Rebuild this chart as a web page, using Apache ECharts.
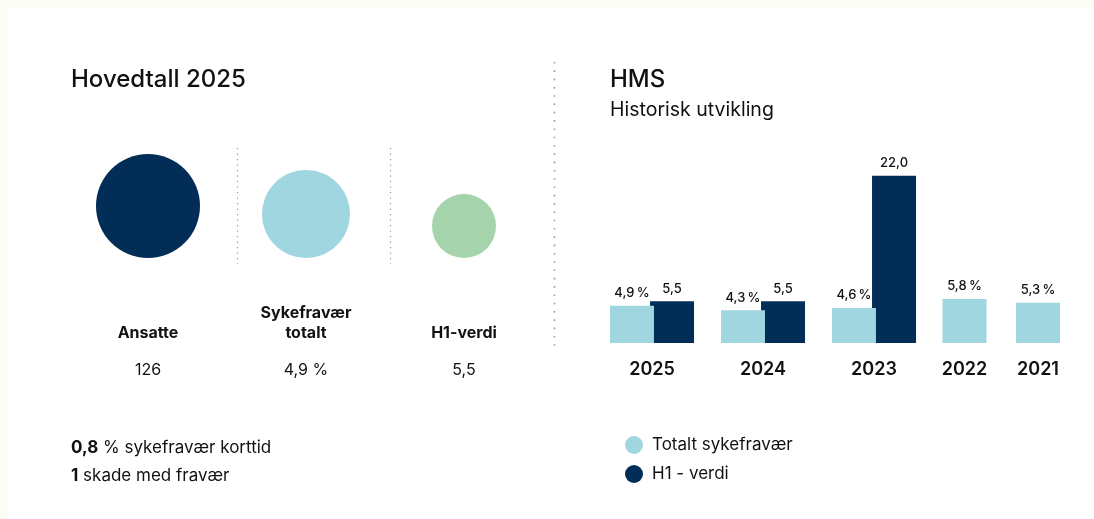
<!DOCTYPE html>
<html>
<head>
<meta charset="utf-8">
<script src="https://cdn.jsdelivr.net/npm/echarts@6/dist/echarts.min.js"></script>
<style>
  html, body { margin: 0; padding: 0; background: #fcfdf4; }
  #chart { width: 1094px; height: 519px; }
</style>
</head>
<body>
<div id="chart"></div>
<script>
// Hovedtall 2025
const hovedNames = ["Ansatte", "Sykefravær\ntotalt", "H1-verdi"];
const hovedValues = [126, 4.9, 5.5];
const hovedUnits = ["", " %", ""];
const korttidFravaer = 0.8;
const skaderMedFravaer = 1;

// HMS - historisk utvikling
const years = ["2025", "2024", "2023", "2022", "2021"];
const sykefravaer = [4.9, 4.3, 4.6, 5.8, 5.3];
const h1Verdi = [5.5, 5.5, 22.0, null, null];

const navy = "#022d56";
const lightBlue = "#9fd6df";
const green = "#a5d3ab";
const circleColors = [navy, lightBlue, green];
const circleSizes = [104, 88, 64];
const font = "Inter";

function komma(v, digits) {
  return v.toFixed(digits).replace(".", ",");
}

// years with an H1 value get a pair of bars, the rest a single bar
const pairCount = h1Verdi.filter(v => v != null).length;

let chartDom = document.getElementById("chart");
let myChart = echarts.init(chartDom);

var barLabel = {
  show: true,
  position: "top",
  distance: 6,
  fontFamily: font,
  fontSize: 13,
  fontWeight: 500,
  color: "#111",
};

var option = {
  backgroundColor: "#fcfdf4",
  textStyle: { fontFamily: font },
  animation: false,
  title: [
    {
      text: "Hovedtall 2025",
      left: 71,
      top: 68,
      padding: 0,
      textStyle: { fontFamily: font, fontSize: 24, fontWeight: 500, color: "#111" },
    },
    {
      text: "HMS",
      subtext: "Historisk utvikling",
      left: 610,
      top: 68,
      padding: 0,
      itemGap: 8,
      textStyle: { fontFamily: font, fontSize: 24, fontWeight: 500, color: "#111" },
      subtextStyle: { fontFamily: font, fontSize: 19.5, color: "#111" },
    },
    {
      text:
        "{b|" + komma(korttidFravaer, 1) + "} % sykefravær korttid\n" +
        "{b|" + skaderMedFravaer + "} skade med fravær",
      left: 71,
      top: 434,
      padding: 0,
      textStyle: {
        fontFamily: font,
        fontSize: 17,
        fontWeight: 400,
        color: "#111",
        lineHeight: 28,
        rich: {
          b: { fontFamily: font, fontSize: 17, fontWeight: 700, color: "#111", lineHeight: 28 },
        },
      },
    },
  ],
  legend: {
    orient: "vertical",
    left: 625,
    top: 436,
    padding: 0,
    itemWidth: 18,
    itemHeight: 18,
    itemGap: 11,
    icon: "circle",
    data: ["Totalt sykefravær", "H1 - verdi"],
    textStyle: { fontFamily: font, fontSize: 17, color: "#111", padding: [0, 0, 0, 4] },
  },
  graphic: [
    {
      type: "rect",
      z: -10,
      silent: true,
      shape: { x: 8, y: 9, width: 1086, height: 510 },
      style: { fill: "#fff" },
    },
    {
      type: "line",
      silent: true,
      shape: { x1: 554.5, y1: 62, x2: 554.5, y2: 351 },
      style: { stroke: "#9a9aa2", lineWidth: 1.6, lineDash: [1.6, 6.7] },
    },
    {
      type: "line",
      silent: true,
      shape: { x1: 237.5, y1: 148, x2: 237.5, y2: 264 },
      style: { stroke: "#9a9aa2", lineWidth: 1.2, lineDash: [1.2, 4.3] },
    },
    {
      type: "line",
      silent: true,
      shape: { x1: 390.5, y1: 148, x2: 390.5, y2: 264 },
      style: { stroke: "#9a9aa2", lineWidth: 1.2, lineDash: [1.2, 4.3] },
    },
  ],
  grid: [
    { left: 69, width: 474, top: 100, height: 158 },
    { left: 596.5, width: 333, top: 153, height: 190 },
    { left: 927.75, width: 147, top: 153, height: 190 },
  ],
  xAxis: [
    {
      gridIndex: 0,
      type: "category",
      data: hovedNames,
      axisLine: { show: false },
      axisTick: { show: false },
      axisLabel: {
        margin: 45,
        interval: 0,
        formatter: function (name, i) {
          let lines = name.split("\n");
          if (lines.length < 2) lines.unshift(" ");
          let out = lines.map(l => "{n|" + l + "}").join("\n");
          return out + "\n{v|" + komma(hovedValues[i], i === 0 ? 0 : 1) + hovedUnits[i] + "}";
        },
        rich: {
          n: { fontFamily: font, fontSize: 16, fontWeight: 700, color: "#111", lineHeight: 20 },
          v: { fontFamily: font, fontSize: 16, fontWeight: 400, color: "#111", lineHeight: 54 },
        },
      },
    },
    {
      gridIndex: 1,
      type: "category",
      data: years.slice(0, pairCount),
      axisLine: { show: false },
      axisTick: { show: false },
      axisLabel: { margin: 18, fontFamily: font, fontSize: 18, fontWeight: 600, color: "#111" },
    },
    {
      gridIndex: 2,
      type: "category",
      data: years.slice(pairCount),
      axisLine: { show: false },
      axisTick: { show: false },
      axisLabel: { margin: 18, fontFamily: font, fontSize: 18, fontWeight: 600, color: "#111" },
    },
  ],
  yAxis: [
    { gridIndex: 0, type: "value", min: 0, max: 1, show: false },
    { gridIndex: 1, type: "value", min: 0, max: 25, show: false },
    { gridIndex: 2, type: "value", min: 0, max: 25, show: false },
  ],
  series: [
    {
      type: "scatter",
      xAxisIndex: 0,
      yAxisIndex: 0,
      silent: true,
      data: hovedValues.map((v, i) => ({
        value: [i, 0],
        symbolSize: circleSizes[i],
        symbolOffset: [0, -circleSizes[i] / 2],
        itemStyle: { color: circleColors[i], opacity: 1 },
      })),
    },
    {
      name: "Totalt sykefravær",
      type: "bar",
      xAxisIndex: 1,
      yAxisIndex: 1,
      z: 3,
      barWidth: 44,
      barGap: "-9%",
      color: lightBlue,
      data: sykefravaer.slice(0, pairCount),
      label: Object.assign({}, barLabel, { formatter: p => komma(p.value, 1) + "\u2009%" }),
    },
    {
      name: "H1 - verdi",
      type: "bar",
      xAxisIndex: 1,
      yAxisIndex: 1,
      barWidth: 44,
      barGap: "-9%",
      color: navy,
      data: h1Verdi.slice(0, pairCount),
      label: Object.assign({}, barLabel, { formatter: p => komma(p.value, 1) }),
    },
    {
      name: "Totalt sykefravær",
      type: "bar",
      xAxisIndex: 2,
      yAxisIndex: 2,
      barWidth: 44,
      color: lightBlue,
      data: sykefravaer.slice(pairCount),
      label: Object.assign({}, barLabel, { formatter: p => komma(p.value, 1) + "\u2009%" }),
    },
  ],
};

myChart.setOption(option);

window.onresize = function () {
  myChart.resize();
};
</script>
</body>
</html>
